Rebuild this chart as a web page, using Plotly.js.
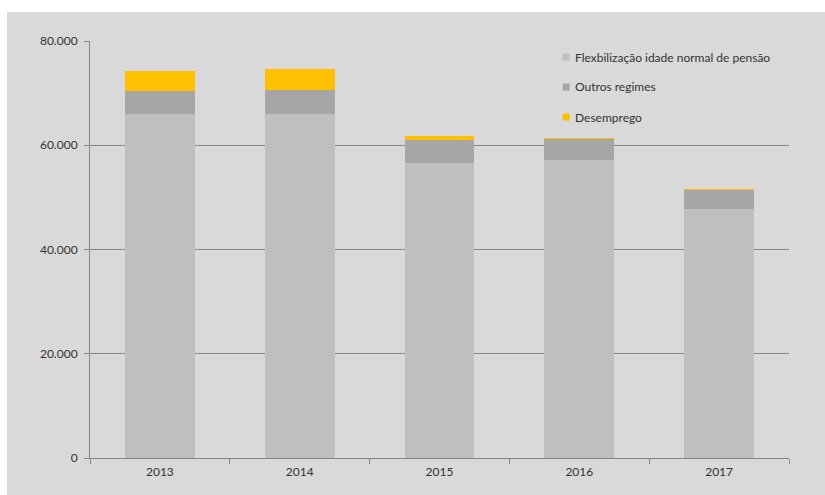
<!DOCTYPE html>
<html>
<head>
<meta charset="utf-8">
<script src="https://cdn.plot.ly/plotly-3.0.1.min.js"></script>
<style>
  html, body { margin: 0; padding: 0; background: #ffffff; }
  #chart { position: absolute; left: 7px; top: 12px; width: 818px; height: 483px; }
</style>
</head>
<body>
<div id="chart"></div>
<script>
const years = ['2013', '2014', '2015', '2016', '2017'];
const flexibilizacao = [66000, 66000, 56650, 57230, 47850];
const outrosRegimes = [4400, 4600, 4350, 3970, 3530];
const desemprego = [3900, 4100, 770, 250, 180];
const seriesNames = ['Flexbilização idade normal de pensão', 'Outros regimes', 'Desemprego'];
const seriesColors = ['#BFBFBF', '#A6A6A6', '#FFC000'];
const yTicks = [0, 20000, 40000, 60000, 80000];

const seriesValues = [flexibilizacao, outrosRegimes, desemprego];
const traces = seriesValues.map((vals, i) => ({
  type: 'bar',
  name: seriesNames[i],
  x: years,
  y: vals,
  marker: { color: seriesColors[i], line: { width: 0 } },
  showlegend: false,
  hoverinfo: 'x+y+name'
}));

const FONT = 'Lato, "Liberation Sans", Arial, sans-serif';

// manual legend (small square keys as in the reference)
const legendRowsY = [0.9616, 0.8897, 0.8177];
const shapes = [];
const annotations = [];
seriesNames.forEach((name, i) => {
  shapes.push({
    type: 'rect', xref: 'paper', yref: 'paper',
    x0: 0.6763, x1: 0.6863,
    y0: legendRowsY[i] - 0.0084, y1: legendRowsY[i] + 0.0084,
    fillcolor: seriesColors[i], line: { width: 0 }
  });
  annotations.push({
    xref: 'paper', yref: 'paper', x: 0.6910, y: legendRowsY[i],
    xanchor: 'left', yanchor: 'middle', showarrow: false,
    text: name, font: { family: FONT, size: 12, color: '#333333' }
  });
});

const layout = {
  width: 818, height: 483,
  paper_bgcolor: '#D9D9D9',
  plot_bgcolor: '#D9D9D9',
  margin: { l: 83, r: 36, t: 29, b: 37, pad: 0 },
  barmode: 'stack',
  bargap: 0.5,
  separators: ',.',
  font: { family: FONT, size: 12, color: '#333333' },
  showlegend: false,
  xaxis: {
    type: 'category',
    showline: true, linecolor: '#868686', linewidth: 1,
    ticks: 'outside', ticklen: 5, tickcolor: '#868686', tickson: 'boundaries',
    showgrid: false, zeroline: false,
    ticklabelstandoff: 3,
    tickfont: { family: FONT, size: 12, color: '#333333' }
  },
  yaxis: {
    range: [0, 80000],
    tickvals: yTicks,
    tickformat: ',d',
    showline: true, linecolor: '#868686', linewidth: 1,
    ticks: 'outside', ticklen: 5, tickcolor: '#868686',
    showgrid: true, gridcolor: '#868686', gridwidth: 1,
    zeroline: false,
    ticklabelstandoff: 4,
    tickfont: { family: FONT, size: 12, color: '#333333' }
  },
  shapes: shapes,
  annotations: annotations
};

Plotly.newPlot('chart', traces, layout, { displayModeBar: false, staticPlot: true });
</script>
</body>
</html>
